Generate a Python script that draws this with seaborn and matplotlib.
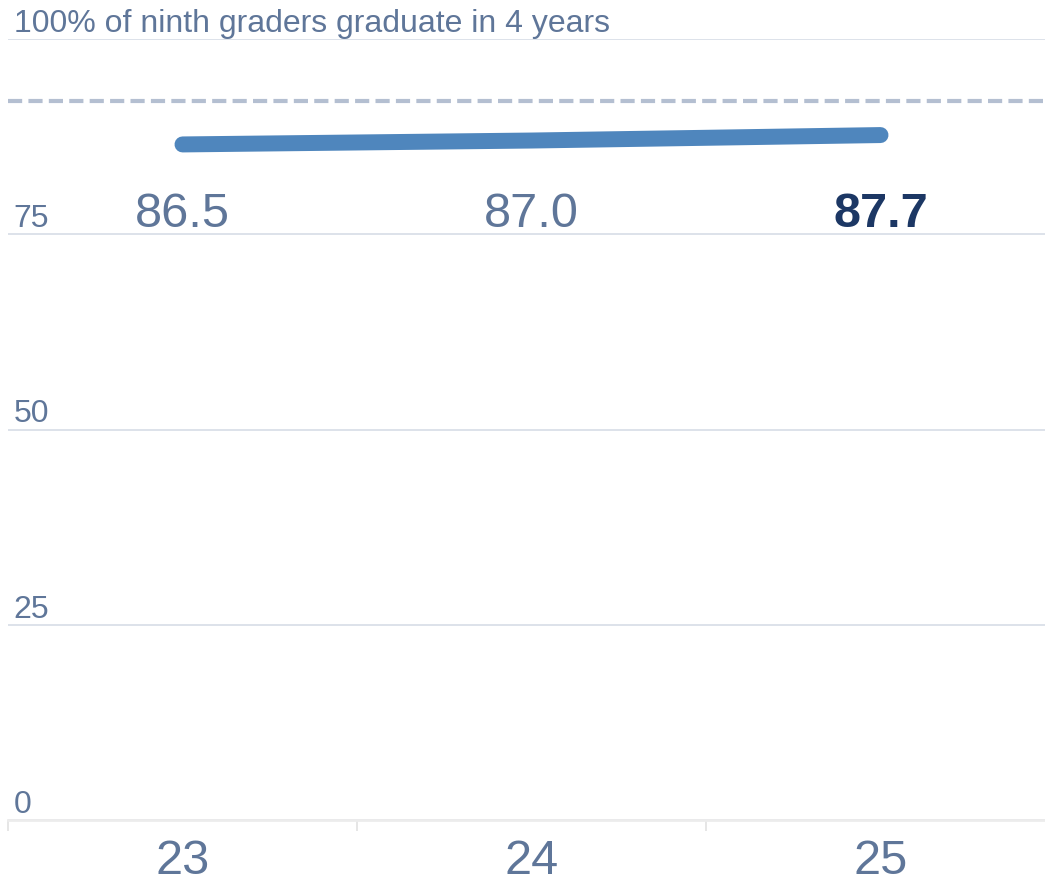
import matplotlib
matplotlib.use('Agg')
import matplotlib.pyplot as plt
import seaborn as sns
import pandas as pd

# data
years = ['23', '24', '25']
grad_rate = [86.5, 87.0, 87.7]
goal = 92
yticks = [0, 25, 50, 75, 100]
ytick_labels = ['0', '25', '50', '75', '100% of ninth graders graduate in 4 years']

text_col = '#5f7699'
line_col = '#4f86bd'
last_col = '#1c3764'

sns.set_theme(style='white')
plt.rcParams['font.family'] = ['Liberation Sans', 'DejaVu Sans']

df = pd.DataFrame({'year': years, 'rate': grad_rate})

fig = plt.figure(figsize=(10.45, 8.85), dpi=100)
# the plot area runs a little past the right edge of the image
ax = fig.add_axes([8 / 1045, 1 - 820 / 885, (1055 - 8) / 1045, (820 - 39) / 885])

sns.lineplot(data=df, x='year', y='rate', ax=ax, color=line_col,
             linewidth=11.5, solid_capstyle='round', sort=False)
ax.axhline(goal, color='#b4bfd1', linewidth=3, dashes=(3.4, 1.5), zorder=1)

for i, v in enumerate(grad_rate):
    last = i == len(grad_rate) - 1
    ax.text(i, 74.6, '%.1f' % v, ha='center', va='bottom', fontsize=35,
            color=last_col if last else text_col,
            fontweight='bold' if last else 'normal')

ax.set_xlim(-0.5, len(years) - 0.5)
ax.set_ylim(0, 100)
ax.set_yticks(yticks)
ax.set_yticklabels(ytick_labels)
ax.grid(axis='y', color='#dde2ea', linewidth=1.4)
ax.set_axisbelow(True)
ax.tick_params(axis='y', length=0, pad=-4, labelsize=23, labelcolor=text_col)
for lab in ax.get_yticklabels():
    lab.set_horizontalalignment('left')
    lab.set_verticalalignment('bottom')
ax.tick_params(axis='x', length=0, pad=14, labelsize=35, labelcolor=text_col)
ax.set_xticks(range(len(years)))
ax.set_xticks([i - 0.5 for i in range(len(years) + 1)], minor=True)
# faint separators between the year bands
ax.tick_params(axis='x', which='minor', bottom=True, length=8, width=1.2,
               color='#e2e2e2', direction='out')
ax.set_xlabel('')
ax.set_ylabel('')

for s in ['top', 'left', 'right']:
    ax.spines[s].set_visible(False)
ax.spines['bottom'].set_color('#ececec')
ax.spines['bottom'].set_linewidth(2)

fig.savefig('out.png', dpi=100)
